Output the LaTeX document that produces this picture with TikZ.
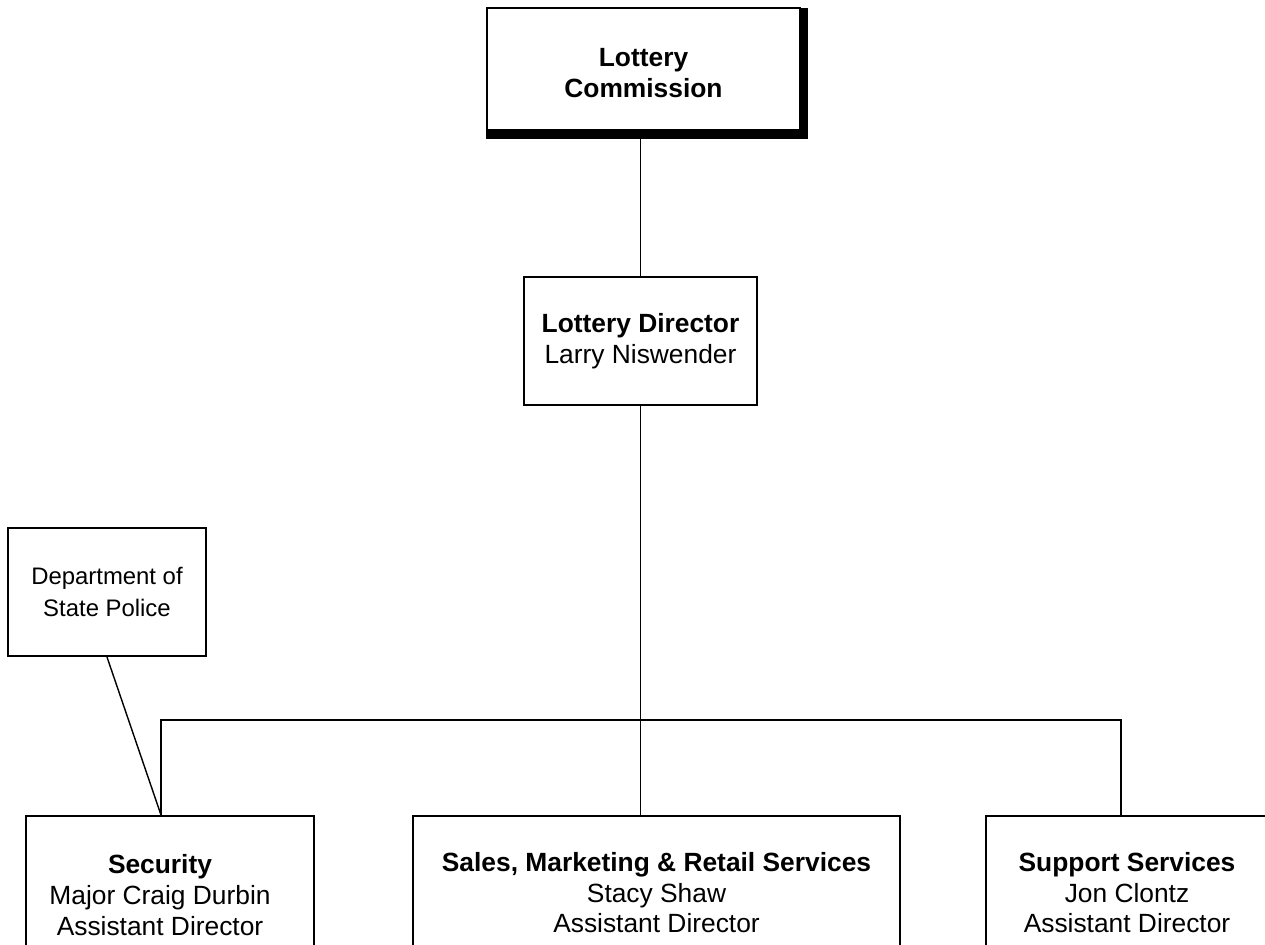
\documentclass[tikz,border=0pt]{standalone}
\usepackage{fontspec}
\setmainfont{Liberation Sans}
\usetikzlibrary{positioning}
\tikzset{orgbox/.style={rectangle,draw=black,fill=white,line width=1.2pt,
align=center,inner sep=2pt,font=\fontsize{15}{17.6}\selectfont}}
\tikzset{unitbox/.style={orgbox,anchor=north,inner ysep=0.72cm,
font=\fontsize{15}{17.6}\selectfont}}
\tikzset{sidebox/.style={orgbox,font=\fontsize{13.6}{18}\selectfont}}
\tikzset{orgline/.style={line width=0.8pt}}

\begin{document}
\begin{tikzpicture}[x=0.02cm,y=-0.02cm]
        \useasboundingbox (0,0) rectangle (1265,945);

        \node[orgbox, minimum width=6.26cm, minimum height=2.6cm,
              font=\fontsize{15}{17.2}\selectfont\bfseries] (commission) at (643.5,73) {Lottery\\Commission};
        \fill ([yshift=-0.5pt]commission.north east) rectangle ([shift={(7,0)}]commission.south east);
        \fill ([shift={(0,-10)}]commission.south west) rectangle ([shift={(7,0)}]commission.south east);

        \node[orgbox, minimum width=4.66cm, minimum height=2.56cm] (director) at (640.5,341)
              {\textbf{Lottery Director}\\Larry Niswender};

        \node[sidebox, minimum width=3.96cm, minimum height=2.56cm] (police) at (107,592)
              {Department of\\State Police};

        % text sits a little left of the box centre
        \node[unitbox, minimum width=5.76cm] (security) at (170,815)
              {\begin{tabular}{@{}c@{}}\textbf{Security}\\Major Craig Durbin\\Assistant Director\end{tabular}\hspace*{0.4cm}};
        \node[unitbox, minimum width=9.74cm] (sales) at (656.5,815)
              {\textbf{Sales, Marketing \& Retail Services}\\Stacy Shaw\\Assistant Director};
        \node[unitbox, minimum width=5.64cm] (support) at (1127,815)
              {\textbf{Support Services}\\Jon Clontz\\Assistant Director};

        \coordinate (busL) at (161,720);
        \coordinate (busR) at (1121,720);

        \draw[orgline] (director.north) -- (director.north |- commission.south);
        \draw[orgline] (director.south) -- (director.south |- sales.north);
        \draw[orgline] (busL |- security.north) -- (busL) -- (busR) -- (busR |- support.north);
        \draw[orgline] (police.south) -- (busL |- security.north);

    \end{tikzpicture}
\end{document}
